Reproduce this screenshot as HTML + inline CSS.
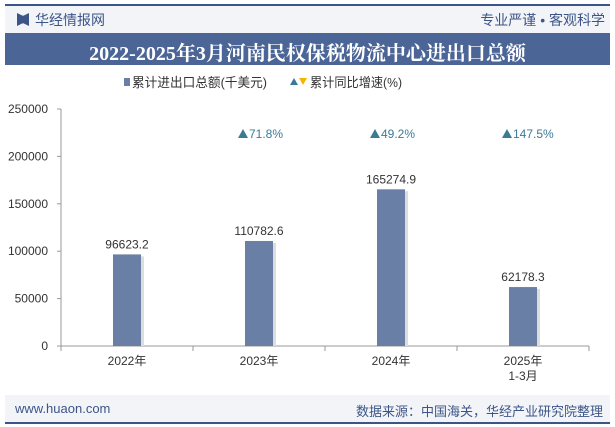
<!DOCTYPE html>
<html><head><meta charset="utf-8"><style>
body{margin:0;width:615px;height:427px;background:#fff;font-family:"Liberation Sans","Noto Sans CJK SC",sans-serif;overflow:hidden;position:relative}
.abs{position:absolute}
</style></head><body>
<div class="abs" style="left:5px;top:4px;width:605px;height:2px;background:#3c5588"></div>
<div class="abs" style="left:5px;top:6px;width:605px;height:27px;background:#f2f4f8"></div>
<div class="abs" style="left:17px;top:13px;width:12px;height:13px;background:#3c5588;clip-path:polygon(0 0,45% 20%,55% 20%,100% 0,100% 100%,55% 80%,45% 80%,0 100%)"></div>
<div class="abs" style="left:35px;top:10px;font-size:14px;color:#3c5588">华经情报网</div>
<div class="abs" style="right:10px;top:10px;font-size:14px;color:#3c5588">专业严谨 • 客观科学</div>
<div class="abs" style="left:5px;top:33px;width:605px;height:32px;background:#4a6596"></div>
<div class="abs" style="left:5px;top:37px;width:605px;text-align:center;font-size:20px;font-weight:bold;color:#fff;font-family:'Liberation Serif','Noto Serif CJK SC',serif">2022-2025年3月河南民权保税物流中心进出口总额</div>
<div class="abs" style="left:5px;top:395px;width:605px;height:27px;background:#f2f4f8"></div>
<div class="abs" style="left:5px;top:422px;width:605px;height:2px;background:#3c5588"></div>
<div class="abs" style="left:15px;top:401px;font-size:13px;color:#3c5588">www.huaon.com</div>
<div class="abs" style="right:12px;top:401px;font-size:13px;color:#3c5588">数据来源：中国海关，华经产业研究院整理</div>
<svg class="abs" style="left:0;top:0" width="615" height="427" id="chart"></svg>
<script>
const categories=["2022年","2023年","2024年","2025年|1-3月"];
const totals=[96623.2,110782.6,165274.9,62178.3];
const growth=[null,71.8,49.2,147.5];
const yTicks=[0,50000,100000,150000,200000,250000];
const NS="http://www.w3.org/2000/svg";
const svg=document.getElementById('chart');
const x0=61,x1=589,yBase=346,yTop=109,yMax=250000;
const band=(x1-x0)/categories.length;
const y=v=>yBase-(v/yMax)*(yBase-yTop);
const xc=i=>x0+band*(i+0.5);
function mk(t,a,txt){const e=document.createElementNS(NS,t);for(const k in a)e.setAttribute(k,a[k]);if(txt!=null)e.textContent=txt;svg.appendChild(e);return e;}
// legend
let e=mk('rect',{x:124,y:78,width:6,height:8,fill:'#6a7fa6'});

e=mk('text',{x:132,y:87,'font-size':13,fill:'#333',textLength:135,lengthAdjust:'spacingAndGlyphs'},'累计进出口总额(千美元)');

e=mk('polygon',{points:'290,85 294,78 298,85',fill:'#3a7a96'});

e=mk('polygon',{points:'299,78 307,78 303,85',fill:'#f2b600'});

e=mk('text',{x:310,y:87,'font-size':13,fill:'#333',textLength:92,lengthAdjust:'spacingAndGlyphs'},'累计同比增速(%)');

// axes
e=mk('line',{x1:x0,y1:yBase,x2:x1,y2:yBase,stroke:'#999'});

e=mk('line',{x1:x0,y1:yTop,x2:x0,y2:yBase,stroke:'#999'});

yTicks.forEach(v=>{
 const t=mk('line',{x1:x0-4,y1:y(v),x2:x0,y2:y(v),stroke:'#999'});
 
 const l=mk('text',{x:x0-13,y:y(v)+4,'font-size':12,fill:'#333','text-anchor':'end'},String(v));
 
});
for(let i=0;i<=categories.length;i++){
 const t=mk('line',{x1:x0+band*i,y1:yBase,x2:x0+band*i,y2:yBase+5,stroke:'#999'});
 
}
categories.forEach((c,i)=>{
 const parts=c.split('|');
 parts.forEach((p,j)=>{
  const l=mk('text',{x:xc(i),y:365+j*15,'font-size':12,fill:'#333','text-anchor':'middle'},p);
  
 });
 const v=totals[i];
 const sh=mk('rect',{x:xc(i)-14+3,y:y(v)+2,width:28,height:yBase-y(v)-2,fill:'#ddd'});
 
 const b=mk('rect',{x:xc(i)-14,y:y(v),width:28,height:yBase-y(v),fill:'#6a7fa6'});
 
 const vl=mk('text',{x:xc(i),y:y(v)-6,'font-size':12,fill:'#333','text-anchor':'middle'},v.toFixed(1));
 
 if(growth[i]!=null){
  const g=growth[i];
  const up=g>=0;
  const tri=mk('polygon',{points:up?`${xc(i)-21},138 ${xc(i)-16},129 ${xc(i)-11},138`:`${xc(i)-21},129 ${xc(i)-11},129 ${xc(i)-16},138`,fill:up?'#3a7a96':'#f2b600'});
  
  const gl=mk('text',{x:xc(i)-10,y:138,'font-size':12,fill:'#3a7a96'},g.toFixed(1)+'%');
  
 }
});
</script>
</body></html>
